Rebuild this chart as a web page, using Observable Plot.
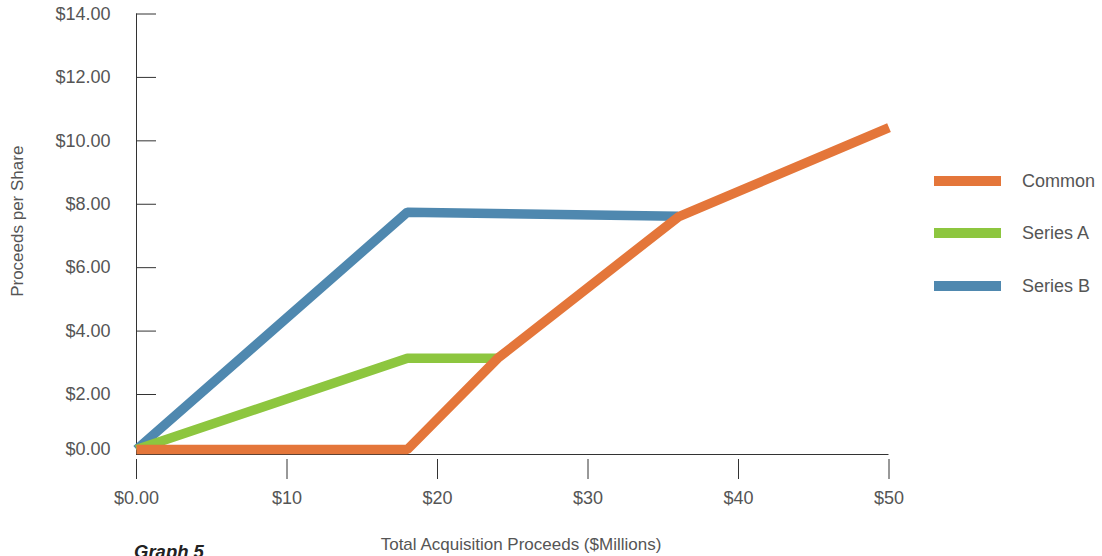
<!DOCTYPE html>
<html>
<head>
<meta charset="utf-8">
<script src="https://cdn.jsdelivr.net/npm/d3@7"></script>
<script src="https://cdn.jsdelivr.net/npm/@observablehq/plot@0.6"></script>
<style>
  html, body { margin: 0; padding: 0; background: #fff; }
  #wrap { position: relative; width: 1102px; height: 556px; overflow: hidden;
          font-family: "Liberation Sans", Arial, Helvetica, sans-serif; }
  #legend { position: absolute; left: 934px; top: 0; }
  .item { position: absolute; left: 0; width: 170px; height: 24px; }
  .swatch { position: absolute; left: 0; top: 7px; width: 67px; height: 10px; }
  .item span { position: absolute; left: 88px; top: 0; font-size: 18px; line-height: 24px; color: #555; white-space: nowrap; }
  #below { position: relative; height: 36px; }
  #xlabel { position: absolute; left: 521px; top: 16px; transform: translateX(-50%);
            font-size: 17px; line-height: 17px; color: #555; white-space: nowrap; }
  #caption { position: absolute; left: 134px; top: 22px; font-size: 18.5px; line-height: 19px;
             font-weight: bold; font-style: italic; color: #222; white-space: nowrap; }
</style>
</head>
<body>
<div id="wrap">
  <div id="chart"></div>
  <div id="below">
    <div id="xlabel"></div>
    <div id="caption"></div>
  </div>
  <div id="legend"></div>
</div>
<script>
// Series shown in the legend, top to bottom, and their colours
const seriesNames = ["Common", "Series A", "Series B"];
const seriesColors = ["#e4763a", "#8dc63f", "#4f88af"];

// Total acquisition proceeds ($M) and proceeds per share ($) for each class
const commonX = [0, 18, 24, 36, 50];
const commonY = [0, 0, 3.14, 7.6, 10.42];
const seriesAX = [0, 18, 24];
const seriesAY = [0, 3.14, 3.14];
const seriesBX = [0, 18, 36];
const seriesBY = [0, 7.75, 7.62];

// Axis ticks
const xTicks = [0, 10, 20, 30, 40, 50];
const yTicks = [0, 2, 4, 6, 8, 10, 12, 14];

const xTitle = "Total Acquisition Proceeds ($Millions)";
const yTitle = "Proceeds per Share";
const captionText = "Graph 5";

// Long-format table, drawn back to front: Series B, Series A, Common
const columns = {
  "Common": [commonX, commonY],
  "Series A": [seriesAX, seriesAY],
  "Series B": [seriesBX, seriesBY]
};
const drawOrder = ["Series B", "Series A", "Common"];
const rows = drawOrder.flatMap(name => {
  const [xs, ys] = columns[name];
  return xs.map((x, i) => ({series: name, x, y: ys[i]}));
});

const axisInk = "#333";
const textInk = "#555";

const chart = Plot.plot({
  width: 1102,
  height: 520,
  marginLeft: 136,
  marginRight: 213.5,
  marginTop: 13.5,
  marginBottom: 66,
  style: {fontFamily: "'Liberation Sans', Arial, Helvetica, sans-serif", fontSize: "18px", color: textInk, background: "#fff"},
  x: {domain: [0, 50], range: [136, 888.5]},
  y: {type: "linear", domain: [0, 2, 14], range: [449, 394, 13.5]},
  color: {domain: seriesNames, range: seriesColors},
  marks: [
    // axis lines
    Plot.ruleX([0], {stroke: axisInk, strokeWidth: 1}),
    Plot.ruleY([0], {stroke: axisInk, strokeWidth: 1, dy: 5}),
    // inward y ticks
    Plot.ruleY(yTicks.filter(d => d > 0), {stroke: axisInk, strokeWidth: 1, insetRight: 752.5 - 20}),
    Plot.axisY({ticks: yTicks, tickSize: 0, tickPadding: 26, label: null,
      tickFormat: d => "$" + d.toFixed(2), fill: textInk}),
    Plot.axisX({ticks: xTicks, tickSize: 20, tickPadding: 12, label: null,
      tickFormat: d => d === 0 ? "$0.00" : "$" + d, stroke: axisInk, fill: textInk, dy: 5}),
    Plot.text([yTitle], {frameAnchor: "left", textAnchor: "middle", rotate: -90, dx: -119, dy: -13,
      fontSize: 17, fill: textInk}),
    Plot.line(rows, {x: "x", y: "y", z: "series", stroke: "series", strokeWidth: 9.5,
      strokeLinecap: "butt", strokeLinejoin: "miter"})
  ]
});
document.getElementById("chart").appendChild(chart);

document.getElementById("xlabel").textContent = xTitle;
document.getElementById("caption").textContent = captionText;

// Legend built from the same series names and colours
const legend = document.getElementById("legend");
const legendCenters = [181, 233, 286];
seriesNames.forEach((name, i) => {
  const item = document.createElement("div");
  item.className = "item";
  item.style.top = (legendCenters[i] - 12) + "px";
  const sw = document.createElement("div");
  sw.className = "swatch";
  sw.style.background = seriesColors[i];
  const label = document.createElement("span");
  label.textContent = name;
  item.appendChild(sw);
  item.appendChild(label);
  legend.appendChild(item);
});
</script>
</body>
</html>
